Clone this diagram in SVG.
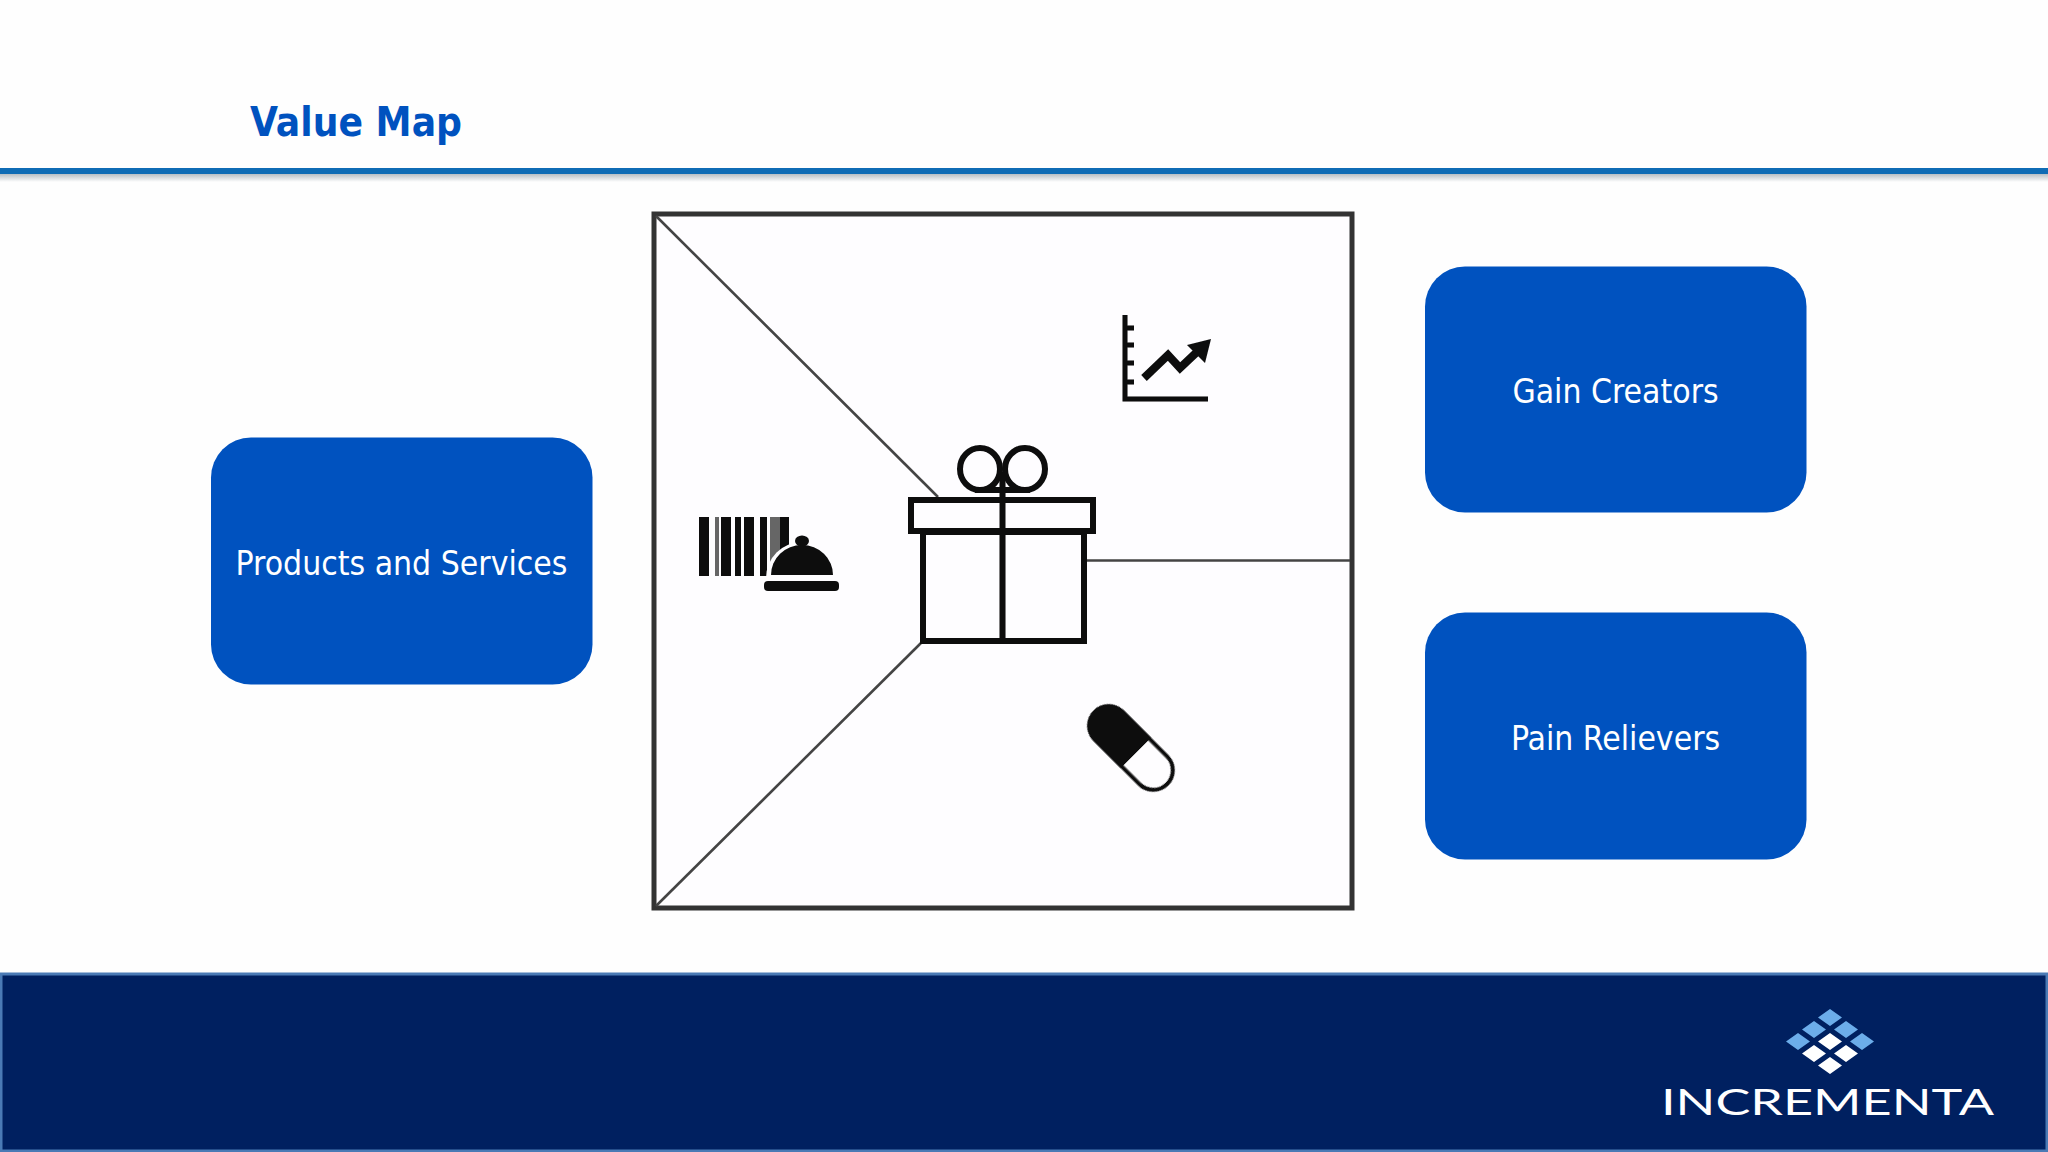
<svg xmlns="http://www.w3.org/2000/svg" width="2048" height="1152" viewBox="0 0 2048 1152">
<defs>
<linearGradient id="sh" x1="0" y1="0" x2="0" y2="1"><stop offset="0" stop-color="#b8bfc4"/><stop offset="1" stop-color="#fefefe"/></linearGradient>
<filter id="soft" x="-10%" y="-10%" width="120%" height="120%"><feGaussianBlur stdDeviation="0.7"/></filter>
</defs>
<style>
.box{fill:#0052bf}
.lbl{font-family:"DejaVu Sans Condensed","DejaVu Sans",sans-serif;font-stretch:condensed;font-size:33.400px;fill:#fff;text-anchor:middle}
.div{stroke:#444;stroke-width:2.6;fill:none}
.ink{stroke:#0c0c0c;fill:none}
.blk{fill:#0c0c0c}
.lt{fill:#6cadea}
.wh{fill:#fff}
</style>
<rect width="2048" height="1152" fill="#fefefe"/>
<g id="header">
<rect x="0" y="174" width="2048" height="8" fill="url(#sh)"/>
<rect x="0" y="168" width="2048" height="6" fill="#0f6cb5"/>
<text x="250" y="136" font-family="'DejaVu Sans Condensed','DejaVu Sans',sans-serif" font-stretch="condensed" font-weight="700" font-size="41" fill="#0052bf" textLength="212" lengthAdjust="spacingAndGlyphs">Value Map</text>
</g>
<g id="frame"><rect x="654" y="214" width="698" height="694" fill="#fefdff" stroke="#333" stroke-width="5"/></g>
<g id="connectors">
<line class="div" x1="656" y1="216" x2="938" y2="497"/>
<line class="div" x1="656" y1="906" x2="922" y2="642"/>
<line class="div" x1="1085" y1="560.500" x2="1350" y2="560.500"/>
</g>
<g id="gift" class="ink" stroke-width="6" filter="url(#soft)">
<ellipse cx="980" cy="469" rx="20" ry="21" fill="#fefdff"/>
<ellipse cx="1025" cy="469" rx="20" ry="21" fill="#fefdff"/>
<rect x="923" y="532" width="161" height="109"/>
<rect x="911" y="500" width="182" height="31" fill="#fefdff"/>
<line x1="1002.500" y1="472" x2="1002.500" y2="641"/>
<line x1="975" y1="490" x2="1030" y2="490"/>
</g>
<g id="products-icon" filter="url(#soft)">
<g class="blk">
<rect x="699" y="517" width="10" height="59"/>
<rect x="715" y="517" width="4" height="59" fill="#666"/>
<rect x="721" y="517" width="10" height="59"/>
<rect x="735" y="517" width="6" height="59"/>
<rect x="744" y="517" width="10" height="59"/>
<rect x="760" y="517" width="7" height="59"/>
<rect x="770" y="517" width="10" height="59" fill="#666"/>
<rect x="780" y="517" width="9" height="59"/>
</g>
<path d="M766 578a36 36 0 0 1 72 0z" fill="#fefdff"/>
<g class="blk">
<path d="M771 575a31 30 0 0 1 62 0z"/>
<ellipse cx="802" cy="541" rx="7" ry="5.500"/>
<rect x="764" y="581" width="75" height="10" rx="4"/>
</g>
</g>
<g id="gain-icon" filter="url(#soft)">
<path class="ink" stroke-width="5" d="M1125 315V399H1208M1125 328h9M1125 345h9M1125 363h9M1125 382h9"/>
<path class="ink" stroke-width="8" d="M1144 378L1168 355L1180 368L1198 351"/>
<path class="blk" d="M1211 339L1187 345L1205 363z"/>
</g>
<g id="pain-icon" transform="translate(1131 748) rotate(45)" filter="url(#soft)">
<rect x="-51" y="-19.500" width="102" height="39" rx="19.500" fill="#fefdff" stroke="#0c0c0c" stroke-width="4"/>
<path class="blk" d="M7 -21.500H-31.500a21.500 21.500 0 0 0 0 43H7z"/>
</g>
<g id="products"><rect class="box" x="211" y="437.500" width="381.500" height="247" rx="40"/><text class="lbl" x="401.500" y="574.500">Products and Services</text></g>
<g id="gain"><rect class="box" x="1425" y="266.500" width="381.500" height="246" rx="40"/><text class="lbl" x="1615.500" y="403">Gain Creators</text></g>
<g id="pain"><rect class="box" x="1425" y="612.500" width="381.500" height="247" rx="40"/><text class="lbl" x="1615.500" y="749.500">Pain Relievers</text></g>
<g id="footer">
<rect x="1" y="974" width="2046" height="177" fill="#002060" stroke="#4a7ab5" stroke-width="3"/>
<g id="logo">
<path class="lt" d="M1830 1009l12 8.500-12 8.500-12-8.500zM1814 1021l12 8.500-12 8.500-12-8.500zM1846 1021l12 8.500-12 8.500-12-8.500zM1798 1033l12 8.500-12 8.500-12-8.500zM1862 1033l12 8.500-12 8.500-12-8.500z"/>
<path class="wh" d="M1830 1033l12 8.500-12 8.500-12-8.500zM1814 1045l12 8.500-12 8.500-12-8.500zM1846 1045l12 8.500-12 8.500-12-8.500zM1830 1057l12 8.500-12 8.500-12-8.500z"/>
<text x="1661" y="1115" font-family="Lato,'Open Sans',sans-serif" font-weight="400" font-size="37" fill="#fff" textLength="333" lengthAdjust="spacingAndGlyphs">INCREMENTA</text>
</g>
</g>
</svg>
